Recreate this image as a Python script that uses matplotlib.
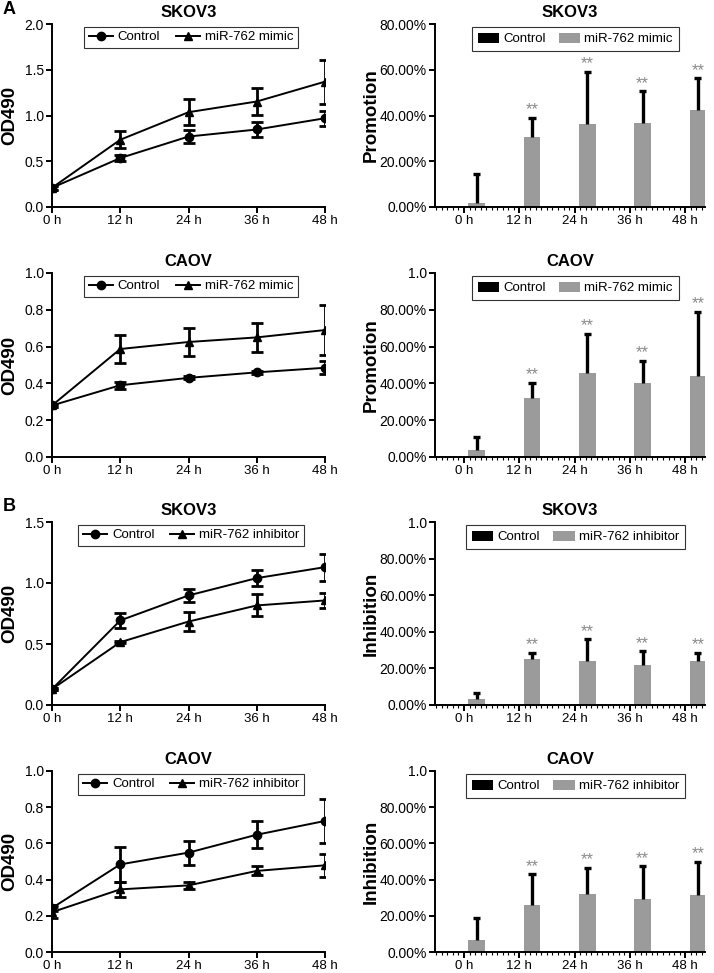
import matplotlib
matplotlib.use("Agg")
import matplotlib.pyplot as plt
import numpy as np
from matplotlib.lines import Line2D
from matplotlib.patches import Patch
from matplotlib.ticker import MultipleLocator

plt.rcParams['font.family'] = ['Liberation Sans', 'DejaVu Sans']

hours = [0, 12, 24, 36, 48]
hour_labels = ["0 h", "12 h", "24 h", "36 h", "48 h"]

# Line panels (OD490)
skov_mimic_ctrl = [0.21, 0.535, 0.77, 0.847, 0.97]
skov_mimic_ctrl_err = [0.02, 0.03, 0.075, 0.085, 0.08]
skov_mimic_trt = [0.21, 0.735, 1.036, 1.153, 1.37]
skov_mimic_trt_err = [0.02, 0.095, 0.14, 0.15, 0.24]

caov_mimic_ctrl = [0.28, 0.39, 0.43, 0.46, 0.485]
caov_mimic_ctrl_err = [0.01, 0.02, 0.008, 0.008, 0.035]
caov_mimic_trt = [0.28, 0.587, 0.625, 0.65, 0.69]
caov_mimic_trt_err = [0.01, 0.077, 0.076, 0.077, 0.134]

skov_inh_ctrl = [0.13, 0.693, 0.898, 1.04, 1.13]
skov_inh_ctrl_err = [0.01, 0.065, 0.05, 0.065, 0.11]
skov_inh_trt = [0.13, 0.515, 0.684, 0.816, 0.857]
skov_inh_trt_err = [0.01, 0.01, 0.08, 0.09, 0.06]

caov_inh_ctrl = [0.243, 0.484, 0.549, 0.648, 0.724]
caov_inh_ctrl_err = [0.015, 0.095, 0.066, 0.076, 0.12]
caov_inh_trt = [0.22, 0.346, 0.368, 0.448, 0.479]
caov_inh_trt_err = [0.03, 0.04, 0.02, 0.025, 0.065]

# Bar panels (Promotion / Inhibition)
ctrl_zero = [0, 0, 0, 0, 0]
skov_promo = [0.019, 0.308, 0.364, 0.368, 0.422]
skov_promo_top = [0.143, 0.39, 0.592, 0.506, 0.563]
caov_promo = [0.04, 0.318, 0.455, 0.404, 0.44]
caov_promo_top = [0.109, 0.404, 0.669, 0.522, 0.79]
skov_inhib = [0.033, 0.25, 0.239, 0.217, 0.239]
skov_inhib_top = [0.066, 0.286, 0.358, 0.294, 0.286]
caov_inhib = [0.066, 0.258, 0.319, 0.291, 0.313]
caov_inhib_top = [0.186, 0.429, 0.466, 0.475, 0.499]
stars = ["", "**", "**", "**", "**"]

W, H = 714, 973
fig = plt.figure(figsize=(W / 100, H / 100), dpi=100)

rows = [(24, 207), (273, 457), (522, 705), (771, 952)]
left_x = (52, 325)
right_x = (435, 705)


def make_ax(xr, yr):
    return fig.add_axes([xr[0] / W, 1 - yr[1] / H, (xr[1] - xr[0]) / W, (yr[1] - yr[0]) / H])


def style(ax):
    for s in ['top', 'right']:
        ax.spines[s].set_visible(False)
    for s in ['left', 'bottom']:
        ax.spines[s].set_linewidth(1.4)
    ax.tick_params(direction='out', length=4, width=1.4, pad=2)
    ax.tick_params(axis='y', labelsize=10)
    ax.tick_params(axis='x', labelsize=9.5)


def line_panel(ax, title, ctrl, ctrl_err, trt, trt_err, trt_name, ymax, ystep):
    style(ax)
    ax.errorbar(hours, ctrl, yerr=ctrl_err, color='black', marker='o', ms=6, lw=1.4,
                elinewidth=2.0, capsize=4, capthick=2.0, zorder=3)
    ax.errorbar(hours, trt, yerr=trt_err, color='black', marker='^', ms=6, lw=1.4,
                elinewidth=2.0, capsize=4, capthick=2.0, zorder=3)
    ax.set_xlim(0, 48)
    ax.set_ylim(0, ymax)
    ax.set_xticks(hours)
    ax.set_xticklabels(hour_labels)
    ticks = np.arange(0, ymax + 1e-9, ystep)
    ax.set_yticks(ticks)
    ax.set_yticklabels([f"{t:.1f}" for t in ticks])
    ax.spines['left'].set_bounds(0, ymax)
    ax.set_title(title, fontsize=12, fontweight='bold', pad=5)
    ax.set_ylabel("OD490", fontsize=13.5, fontweight='bold')
    ax.yaxis.set_label_coords(-0.125, 0.5)
    handles = [Line2D([], [], color='black', marker='o', ms=6, lw=1.4),
               Line2D([], [], color='black', marker='^', ms=6, lw=1.4)]
    leg = ax.legend(handles, ["Control", trt_name], loc='upper center',
                    bbox_to_anchor=(0.51, 1.0), ncol=2, fontsize=9.5, frameon=True,
                    fancybox=False, edgecolor='black', handlelength=1.8,
                    columnspacing=1.2, handletextpad=0.4, borderaxespad=0.2,
                    borderpad=0.35)
    leg.get_frame().set_linewidth(0.8)


def bar_panel(ax, title, vals, tops, trt_name, ylabel, ymax, tick_labels):
    style(ax)
    x = np.arange(len(hours))
    off, wd = 0.23, 0.3
    gray = '#9b9b9b'
    ax.bar(x - off, ctrl_zero, wd, color='black', zorder=2)
    ax.bar(x + off, vals, wd, color=gray, zorder=2)
    for xi, v, t, s in zip(x, vals, tops, stars):
        ax.plot([xi + off, xi + off], [v, t], color='black', lw=2.4,
                zorder=3, solid_capstyle='butt')
        ax.plot([xi + off - 0.065, xi + off + 0.065], [t, t], color='black', lw=2.4,
                zorder=3, solid_capstyle='butt')
        if s:
            ax.text(xi + off, t + 0.002, s, ha='center', va='bottom', color='#8a8a8a',
                    fontsize=12)
    ax.set_xlim(-0.525, 4.36)
    ax.set_ylim(0, ymax)
    ax.set_xticks(x)
    ax.set_xticklabels(hour_labels)
    ax.xaxis.set_minor_locator(MultipleLocator(0.1))
    ax.tick_params(axis='x', which='minor', length=2, width=0.8)
    yt = np.linspace(0, ymax, len(tick_labels))
    ax.set_yticks(yt)
    ax.set_yticklabels(tick_labels)
    ax.set_title(title, fontsize=12, fontweight='bold', pad=5)
    ax.set_ylabel(ylabel, fontsize=13.5, fontweight='bold')
    ax.yaxis.set_label_coords(-0.205, 0.5)
    handles = [Patch(facecolor='black'), Patch(facecolor=gray)]
    leg = ax.legend(handles, ["Control", trt_name], loc='upper center',
                    bbox_to_anchor=(0.52, 1.0), ncol=2, fontsize=9.5, frameon=True,
                    fancybox=False, edgecolor='black', handlelength=1.6,
                    handleheight=0.8, columnspacing=1.05, handletextpad=0.3,
                    borderaxespad=0.2, borderpad=0.45)
    leg.get_frame().set_linewidth(0.8)


pct4 = ["0.00%", "20.00%", "40.00%", "60.00%", "80.00%"]
pct5 = ["0.00%", "20.00%", "40.00%", "60.00%", "80.00%", "1.0"]

ax = make_ax(left_x, rows[0])
line_panel(ax, "SKOV3", skov_mimic_ctrl, skov_mimic_ctrl_err, skov_mimic_trt,
           skov_mimic_trt_err, "miR-762 mimic", 2.0, 0.5)
ax = make_ax(left_x, rows[1])
line_panel(ax, "CAOV", caov_mimic_ctrl, caov_mimic_ctrl_err, caov_mimic_trt,
           caov_mimic_trt_err, "miR-762 mimic", 1.0, 0.2)
ax = make_ax(left_x, rows[2])
line_panel(ax, "SKOV3", skov_inh_ctrl, skov_inh_ctrl_err, skov_inh_trt,
           skov_inh_trt_err, "miR-762 inhibitor", 1.5, 0.5)
ax = make_ax(left_x, rows[3])
line_panel(ax, "CAOV", caov_inh_ctrl, caov_inh_ctrl_err, caov_inh_trt,
           caov_inh_trt_err, "miR-762 inhibitor", 1.0, 0.2)

ax = make_ax(right_x, rows[0])
bar_panel(ax, "SKOV3", skov_promo, skov_promo_top, "miR-762 mimic", "Promotion", 0.8, pct4)
ax = make_ax(right_x, rows[1])
bar_panel(ax, "CAOV", caov_promo, caov_promo_top, "miR-762 mimic", "Promotion", 1.0, pct5)
ax = make_ax(right_x, rows[2])
bar_panel(ax, "SKOV3", skov_inhib, skov_inhib_top, "miR-762 inhibitor", "Inhibition", 1.0, pct5)
ax = make_ax(right_x, rows[3])
bar_panel(ax, "CAOV", caov_inhib, caov_inhib_top, "miR-762 inhibitor", "Inhibition", 1.0, pct5)

fig.text(3 / W, 1 - 10 / H, "A", fontsize=13, fontweight='bold', va='center', ha='left')
fig.text(3 / W, 1 - 507 / H, "B", fontsize=13, fontweight='bold', va='center', ha='left')

fig.savefig("out.png", dpi=100)
